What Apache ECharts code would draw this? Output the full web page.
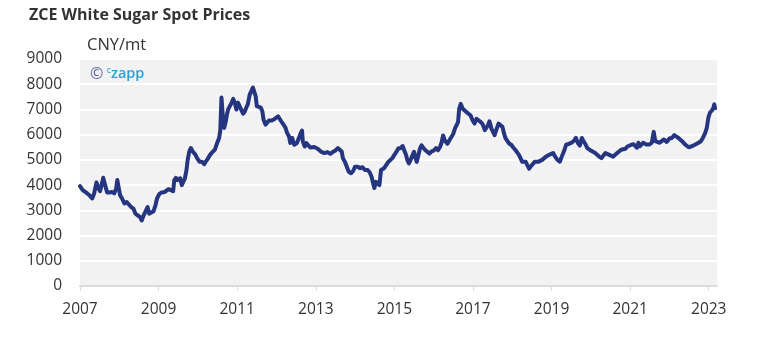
<!DOCTYPE html>
<html>
<head>
<meta charset="utf-8">
<script src="https://cdn.jsdelivr.net/npm/echarts@6/dist/echarts.min.js"></script>
<style>
html,body{margin:0;padding:0;background:#fff;}
#chart{width:762px;height:341px;}
</style>
</head>
<body>
<div id="chart"></div>
<script>
// Decimal years
var years = [
2007.00,2007.07,2007.15,2007.24,2007.31,2007.36,2007.42,2007.47,2007.51,2007.56,2007.59,2007.64,2007.69,2007.75,2007.81,2007.87,2007.92,2007.95,2007.98,
2008.02,2008.07,2008.13,2008.19,2008.24,2008.30,2008.36,2008.41,2008.47,2008.53,2008.57,2008.62,2008.68,2008.72,2008.76,2008.81,2008.87,2008.92,2008.96,
2009.02,2009.08,2009.16,2009.25,2009.31,2009.37,2009.40,2009.44,2009.48,2009.52,2009.55,2009.59,2009.63,2009.67,2009.71,2009.74,2009.78,2009.82,2009.87,2009.91,2009.94,2009.98,
2010.04,2010.10,2010.16,2010.20,2010.25,2010.31,2010.37,2010.43,2010.49,2010.54,2010.57,2010.60,2010.63,2010.65,2010.67,2010.71,2010.74,2010.77,2010.82,2010.86,2010.90,2010.94,2010.98,
2011.02,2011.06,2011.10,2011.15,2011.19,2011.23,2011.27,2011.32,2011.36,2011.40,2011.44,2011.47,2011.50,2011.55,2011.60,2011.64,2011.67,2011.72,2011.76,2011.81,2011.87,2011.93,2011.98,
2012.04,2012.08,2012.12,2012.18,2012.23,2012.27,2012.32,2012.35,2012.40,2012.45,2012.49,2012.52,2012.56,2012.62,2012.65,2012.67,2012.72,2012.76,2012.81,2012.86,2012.91,2012.96,
2013.05,2013.13,2013.22,2013.30,2013.37,2013.43,2013.49,2013.56,2013.61,2013.66,2013.69,2013.74,2013.79,2013.84,2013.90,2013.95,
2014.00,2014.07,2014.13,2014.19,2014.25,2014.32,2014.37,2014.42,2014.46,2014.49,2014.53,2014.57,2014.62,2014.66,2014.70,2014.74,2014.79,2014.85,2014.90,2014.95,
2015.00,2015.06,2015.10,2015.16,2015.21,2015.25,2015.30,2015.33,2015.37,2015.41,2015.46,2015.50,2015.53,2015.57,2015.61,2015.65,2015.69,2015.74,2015.79,2015.84,2015.89,2015.95,
2016.01,2016.06,2016.11,2016.16,2016.20,2016.24,2016.28,2016.31,2016.35,2016.40,2016.45,2016.50,2016.54,2016.58,2016.62,2016.65,2016.69,2016.74,2016.79,2016.84,2016.89,2016.94,2016.99,
2017.04,2017.09,2017.14,2017.20,2017.25,2017.30,2017.34,2017.38,2017.42,2017.47,2017.51,2017.55,2017.60,2017.65,2017.70,2017.75,2017.79,2017.83,2017.87,2017.92,2017.98,
2018.03,2018.08,2018.13,2018.17,2018.21,2018.25,2018.30,2018.34,2018.38,2018.43,2018.47,2018.52,2018.57,2018.62,2018.67,2018.72,2018.76,2018.81,2018.86,2018.91,2018.98,
2019.04,2019.09,2019.15,2019.21,2019.26,2019.32,2019.37,2019.43,2019.50,2019.57,2019.62,2019.67,2019.72,2019.77,2019.82,2019.87,2019.91,2019.96,
2020.01,2020.06,2020.11,2020.16,2020.21,2020.27,2020.32,2020.37,2020.42,2020.47,2020.52,2020.57,2020.62,2020.67,2020.72,2020.77,2020.82,2020.88,2020.93,2020.98,
2021.03,2021.09,2021.17,2021.21,2021.25,2021.33,2021.41,2021.49,2021.55,2021.60,2021.64,2021.74,2021.80,2021.86,2021.93,
2022.00,2022.06,2022.12,2022.17,2022.23,2022.32,2022.40,2022.49,2022.57,2022.66,2022.74,2022.80,2022.85,2022.91,2022.95,2022.99,
2023.03,2023.08,2023.12,2023.14,2023.16
];
// Spot price, CNY/mt
var prices = [
3960,3800,3710,3600,3470,3670,4110,3870,3760,4070,4290,4000,3710,3710,3730,3670,3870,4200,3930,
3600,3470,3270,3330,3270,3130,3070,2870,2800,2730,2600,2800,3000,3130,2870,2800,2960,3200,3470,
3650,3710,3730,3840,3800,3760,4200,4290,4200,4130,4270,4000,4000,4270,4600,5000,5330,5470,5330,5400,5200,5070,
4930,4930,4830,4930,5040,5200,5310,5400,5670,5870,6160,7470,7490,6400,6270,6530,6800,7000,7070,7270,7420,7250,7000,
7270,7130,7200,6830,6910,7070,7200,7600,7730,7870,7930,7530,7130,7200,7070,6930,6600,6400,6400,6560,6560,6600,6560,
6730,6670,6530,6400,6270,6070,5930,5670,5870,5600,5530,5670,5730,6070,6160,5730,5530,5670,5710,5490,5420,5510,
5440,5330,5270,5310,5240,5310,5360,5470,5510,5330,5070,4930,4730,4530,4470,4560,
4730,4730,4670,4710,4600,4600,4510,4330,4070,3890,4130,4200,4000,4600,4530,4670,4730,4930,4900,5070,
5200,5340,5450,5470,5550,5380,5180,4990,4860,4990,5180,5320,5120,4920,5180,5450,5580,5470,5380,5320,5250,5340,
5380,5470,5380,5510,5680,5970,5780,5710,5640,5780,5910,6040,6240,6300,6500,7030,7220,7030,7030,6890,6830,6760,6570,
6440,6630,6610,6500,6400,6180,6110,6370,6530,6240,6110,5980,6220,6440,6480,6310,6050,5850,5780,5650,5590,
5480,5390,5330,5200,5070,4930,4870,4930,4800,4650,4740,4830,4930,5000,4930,4870,5000,5070,5130,5110,5230,
5270,5130,5000,4930,5130,5360,5600,5630,5670,5760,5870,5670,5570,5870,5730,5600,5470,5530,
5360,5400,5270,5200,5130,5070,5170,5270,5330,5200,5230,5130,5070,5270,5230,5400,5330,5440,5530,5490,
5600,5620,5480,5680,5540,5680,5610,5610,5680,6110,5740,5680,5740,5810,5710,
5850,5870,5980,6030,5870,5740,5610,5500,5540,5610,5680,5740,5870,6070,6270,6670,
6870,6960,7070,7200,7050
];
var xTickYears = [2007,2009,2011,2013,2015,2017,2019,2021,2023];
var yTicks = [0,1000,2000,3000,4000,5000,6000,7000,8000,9000];

var chart = echarts.init(document.getElementById('chart'), null, {renderer:'canvas'});
var data = years.map(function(y,i){return [y, prices[i]];});
var FONT = '"Open Sans", "Noto Sans", sans-serif';
chart.setOption({
  animation:false,
  backgroundColor:'#ffffff',
  title:{
    text:'ZCE White Sugar Spot Prices',
    left:29, top:7, padding:0,
    textStyle:{fontFamily:FONT,fontSize:16,fontWeight:'bold',color:'#333333'}
  },
  grid:{left:80,right:45,top:59,bottom:55,show:true,backgroundColor:'#f2f2f2',borderWidth:0},
  xAxis:{
    type:'value', min:2007, max:2023.21,
    splitLine:{show:false},
    axisLine:{show:true,lineStyle:{color:'#dcdcdc',width:2}},
    axisTick:{show:true,customValues:xTickYears,length:5,lineStyle:{color:'#dcdcdc',width:1}},
    axisLabel:{customValues:xTickYears,fontFamily:FONT,fontSize:15.5,color:'#333333',margin:16,
      formatter:function(v){return String(Math.round(v));}}
  },
  yAxis:{
    type:'value', min:0, max:9000, interval:1000,
    axisLine:{show:false}, axisTick:{show:false},
    splitLine:{show:true,lineStyle:{color:'#ffffff',width:2}},
    axisLabel:{customValues:yTicks,fontFamily:FONT,fontSize:15.5,color:'#333333',margin:18,
      formatter:function(v){return String(v);}}
  },
  graphic:[
    {type:'text',left:87,top:37,style:{text:'CNY/mt',font:'16.5px "Open Sans", sans-serif',fill:'#333333'}},
    {type:'text',left:90,top:66,style:{
      text:'{a|©} {b|c}{c|zapp}',
      rich:{
        a:{fontFamily:FONT,fontSize:16,fill:'#5b60a8',color:'#5b60a8'},
        b:{fontFamily:FONT,fontSize:9,fill:'#2a9fd8',color:'#2a9fd8',verticalAlign:'top',padding:[0,0,6,0]},
        c:{fontFamily:FONT,fontSize:14.5,fontWeight:600,fill:'#2a9fd8',color:'#2a9fd8'}
      }
    }}
  ],
  series:[{
    type:'line', data:data, showSymbol:false, symbol:'none',
    lineStyle:{color:'#26357f',width:4,join:'round',cap:'round'},
    itemStyle:{color:'#26357f'}
  }]
});
</script>
</body>
</html>
